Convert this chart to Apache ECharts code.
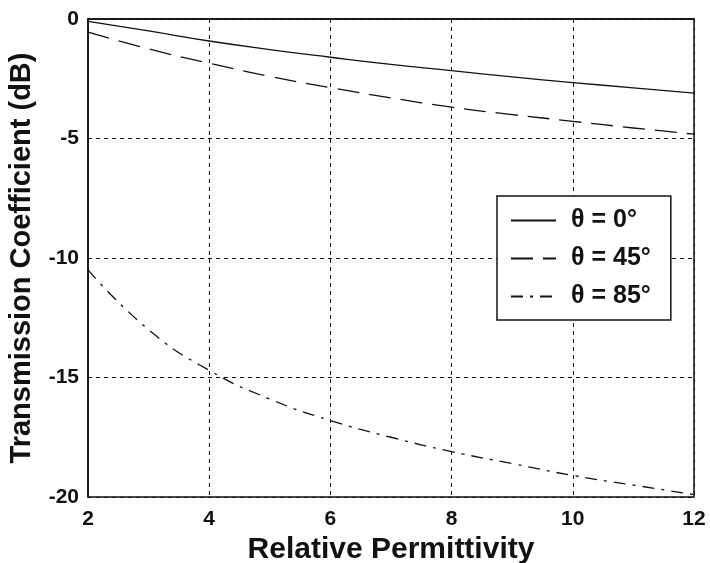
<!DOCTYPE html>
<html>
<head>
<meta charset="utf-8">
<script src="https://cdn.jsdelivr.net/npm/echarts@6/dist/echarts.min.js"></script>
<style>
  html, body { margin: 0; padding: 0; background: #fff; }
  #chart { width: 710px; height: 563px; }
</style>
</head>
<body>
<div id="chart"></div>
<script>
// relative permittivity samples
var permittivity = [2, 3, 4, 5, 6, 7, 8, 9, 10, 11, 12];
// transmission coefficient (dB)
var theta0 = [-0.1, -0.5, -0.92, -1.28, -1.6, -1.9, -2.16, -2.42, -2.66, -2.88, -3.1];
var theta45 = [-0.55, -1.25, -1.85, -2.4, -2.87, -3.3, -3.69, -4.0, -4.28, -4.56, -4.82];
var theta85 = [-10.5, -13.0, -14.7, -15.9, -16.8, -17.5, -18.1, -18.6, -19.1, -19.5, -19.9];
var seriesNames = ['\u03b8 = 0\u00b0', '\u03b8 = 45\u00b0', '\u03b8 = 85\u00b0'];

function pairs (ys) {
  return permittivity.map(function (x, i) { return [x, ys[i]]; });
}

var font = 'Liberation Sans, Arial, sans-serif';
var ink = '#111';

var chart = echarts.init(document.getElementById('chart'));

var lineSeries = function (name, ys, dash) {
  return {
    name: name,
    type: 'line',
    data: pairs(ys),
    smooth: true,
    symbol: 'none',
    lineStyle: { color: ink, width: 1.3, type: dash },
    itemStyle: { color: ink }
  };
};

chart.setOption({
  animation: false,
  grid: {
    left: 88, right: 16, top: 19, bottom: 66,
    outerBoundsMode: 'none',
    show: true, borderColor: ink, borderWidth: 1.5
  },
  legend: {
    orient: 'vertical',
    left: 497, top: 196,
    padding: [12, 20, 11, 13],
    itemGap: 13,
    itemWidth: 45, itemHeight: 12,
    backgroundColor: '#fff',
    borderColor: ink, borderWidth: 1.5,
    itemStyle: { opacity: 0 },
    textStyle: { fontFamily: font, fontWeight: 'bold', fontSize: 25, color: ink, padding: [0, 0, 0, 10] },
    data: seriesNames
  },
  xAxis: {
    type: 'value',
    min: 2, max: 12, interval: 2,
    name: 'Relative Permittivity',
    nameLocation: 'middle',
    nameGap: 27,
    nameTextStyle: { fontFamily: font, fontWeight: 'bold', fontSize: 30, color: ink },
    axisLine: { lineStyle: { color: ink, width: 1.5 } },
    axisTick: { show: false },
    axisLabel: { fontFamily: font, fontWeight: 'bold', fontSize: 21, color: ink, margin: 12 },
    splitLine: { show: true, lineStyle: { color: ink, type: [4, 4], width: 1 } }
  },
  yAxis: {
    type: 'value',
    min: -20, max: 0, interval: 5,
    name: 'Transmission Coefficient (dB)',
    nameLocation: 'middle',
    nameGap: 52,
    nameTextStyle: { fontFamily: font, fontWeight: 'bold', fontSize: 29, color: ink },
    axisLine: { lineStyle: { color: ink, width: 1.5 } },
    axisTick: { show: false },
    axisLabel: { fontFamily: font, fontWeight: 'bold', fontSize: 21, color: ink, margin: 9 },
    splitLine: { show: true, lineStyle: { color: ink, type: [4, 4], width: 1 } }
  },
  series: [
    lineSeries(seriesNames[0], theta0, 'solid'),
    lineSeries(seriesNames[1], theta45, [22, 10]),
    lineSeries(seriesNames[2], theta85, [12, 7, 3, 7])
  ]
});
</script>
</body>
</html>
